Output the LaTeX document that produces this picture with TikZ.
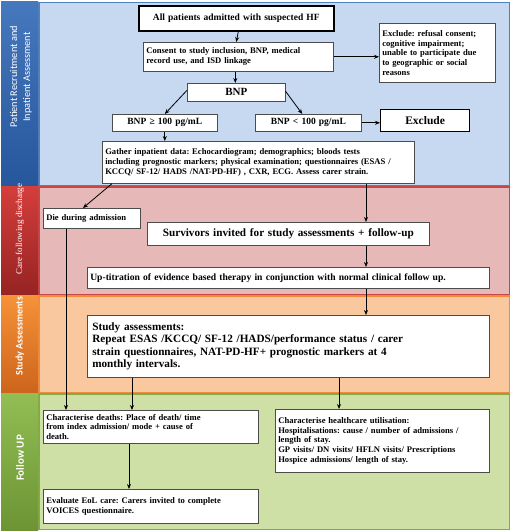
\documentclass[tikz,border=0pt]{standalone}
\usepackage{fontspec}
\setmainfont{Liberation Serif}
\newfontfamily\labelfont{Carlito}
\usetikzlibrary{arrows.meta}
\frenchspacing

\definecolor{blueband}{RGB}{198,217,240}
\definecolor{blueedge}{RGB}{79,129,189}
\definecolor{bluetop}{RGB}{70,120,190}
\definecolor{bluebot}{RGB}{38,86,155}
\definecolor{redband}{RGB}{230,185,184}
\definecolor{rededge}{RGB}{200,70,70}
\definecolor{redtop}{RGB}{212,62,60}
\definecolor{redbot}{RGB}{150,35,35}
\definecolor{orangeband}{RGB}{250,200,158}
\definecolor{orangeedge}{RGB}{238,140,60}
\definecolor{orangetop}{RGB}{246,146,56}
\definecolor{orangebot}{RGB}{205,100,28}
\definecolor{greenband}{RGB}{206,224,166}
\definecolor{greenedge}{RGB}{130,170,70}
\definecolor{greentop}{RGB}{146,190,84}
\definecolor{greenbot}{RGB}{108,148,52}

\tikzset{
  flowbox/.style={draw=black!70, fill=white, line width=0.6pt, anchor=north west,
    inner sep=3pt, font=\bfseries\fontsize{8.6}{9.7}\selectfont, align=left},
  keybox/.style={flowbox, draw=black, line width=1.6pt, align=center},
  bigbox/.style={flowbox, font=\bfseries\fontsize{11.2}{12.6}\selectfont},
  flowarrow/.style={-{Stealth[length=5pt,width=4pt]}, line width=0.8pt},
  bandlabel/.style={rotate=90, text=white, align=center,
    font=\labelfont\fontsize{10.3}{13}\selectfont},
}

\begin{document}
\begin{tikzpicture}[x=1pt,y=-1pt]
  \useasboundingbox (0,0) rectangle (512,532);
  % bands
  \foreach \ya/\yb/\c in {2/186/blue, 186/295/red, 295/393/orange, 393/530/green}{
    \fill[\c band] (38,\ya) rectangle (510,\yb);
    \draw[\c edge, line width=1.5pt] (38.75,\ya+0.75) rectangle (509.25,\yb-0.75);
    \shade[top color=\c top, bottom color=\c bot] (1,\ya) rectangle (38,\yb);
  }
  \node[bandlabel] (lblrecruit) at (21,77) {Patient Recruitment and\\Inpatient Assessment};
  \node[bandlabel, font=\rmfamily\fontsize{9}{11}\selectfont] (lblcare) at (20,229) {Care following discharge};
  \node[bandlabel, font=\labelfont\bfseries\fontsize{10}{11}\selectfont] (lblstudy) at (20,336) {Study Assessments};
  \node[bandlabel, font=\labelfont\bfseries\fontsize{11}{12}\selectfont] (lblfollow) at (20,458) {Follow UP};

  % recruitment
  \node[keybox, minimum width=195, minimum height=25, text width=189,
    font=\bfseries\fontsize{9.5}{11}\selectfont] (admit) at (138,5)
    {All patients admitted with suspected HF};
  \node[flowbox, minimum width=190, minimum height=29, text width=184] (consent) at (143,42)
    {Consent to study inclusion, BNP, medical\\record use, and ISD linkage};
  \node[flowbox, minimum width=116, minimum height=59, text width=110] (refuse) at (379,23)
    {Exclude: refusal consent;\\cognitive impairment;\\unable to participate due\\to geographic or social\\reasons};
  \node[flowbox, align=center, minimum width=98, minimum height=18, text width=92,
    font=\bfseries\fontsize{11}{12}\selectfont] (bnp) at (187,83) {BNP};
  \node[flowbox, align=center, minimum width=105, minimum height=17, text width=99,
    font=\bfseries\fontsize{9.5}{10}\selectfont] (bnphigh) at (112,114) {BNP ≥ 100 pg/mL};
  \node[flowbox, align=center, minimum width=106, minimum height=17, text width=100,
    font=\bfseries\fontsize{9.5}{10}\selectfont] (bnplow) at (255,114) {BNP < 100 pg/mL};
  \node[keybox, line width=1.2pt, minimum width=89, minimum height=22, text width=83,
    font=\bfseries\fontsize{11.5}{12}\selectfont] (exclude) at (380,109) {Exclude};
  \node[flowbox, minimum width=312, minimum height=42, text width=306] (gather) at (102,141)
    {Gather inpatient data: Echocardiogram; demographics; bloods tests\\including prognostic markers; physical examination; questionnaires (ESAS /\\KCCQ/ SF-12/ HADS /NAT-PD-HF) , CXR, ECG. Assess carer strain.};

  % care following discharge
  \node[flowbox, minimum width=97, minimum height=20, text width=91] (died) at (43,208)
    {Die during admission};
  \node[bigbox, align=center, minimum width=282, minimum height=23, text width=276] (survive) at (147,222)
    {Survivors invited for study assessments + follow-up};
  \node[flowbox, align=left, minimum width=402, minimum height=21, text width=396,
    font=\bfseries\fontsize{9.6}{10}\selectfont] (titrate) at (87,267)
    {Up-titration of evidence based therapy in conjunction with normal clinical follow up.};

  % study assessments
  \node[bigbox, minimum width=402, minimum height=62, text width=392] (assess) at (87,315)
    {Study assessments:\\Repeat ESAS /KCCQ/ SF-12 /HADS/performance status / carer\\strain questionnaires, NAT-PD-HF+ prognostic markers at 4\\monthly intervals.};

  % follow up
  \node[flowbox, minimum width=215, minimum height=33, text width=209] (deaths) at (43,410)
    {Characterise deaths: Place of death/ time\\from index admission/ mode + cause of\\death.};
  \node[flowbox, minimum width=215, minimum height=34, text width=209] (eol) at (43,489)
    {Evaluate EoL care: Carers invited to complete\\VOICES questionnaire.};
  \node[flowbox, minimum width=214, minimum height=63, text width=208] (usage) at (275,409)
    {Characterise healthcare utilisation:\\Hospitalisations: cause / number of admissions /\\length of stay.\\GP visits/ DN visits/ HFLN visits/ Prescriptions\\Hospice admissions/ length of stay.};

  % connectors
  \draw[flowarrow] (admit.south -| consent.north) -- (consent.north -| admit.south);
  \draw[flowarrow] ([xshift=-1pt]bnp.north |- consent.south) -- ([xshift=-1pt]bnp.north);
  \draw[flowarrow] (consent.east) -- (refuse.west |- consent.east);
  \draw[flowarrow] ([yshift=2pt]bnp.west) -- (bnphigh.north);
  \draw[flowarrow] ([yshift=1pt]bnp.east) -- ([xshift=-6pt]bnplow.north);
  \draw[flowarrow] (bnplow.east) -- (exclude.west |- bnplow.east);
  \draw[flowarrow] (bnphigh.south) -- (bnphigh.south |- gather.north);
  \draw[flowarrow] ([xshift=10pt]gather.south west) -- ([xshift=40pt]died.north west);
  \draw[flowarrow] ([xshift=264pt]gather.south west) coordinate (split) -- (split |- survive.north);
  \draw[flowarrow] (split |- survive.south) -- (split |- titrate.north);
  \draw[flowarrow] (split |- titrate.south) -- (split |- assess.north);
  \draw[flowarrow] ([xshift=23pt]died.south west) -- ([xshift=23pt]deaths.north west);
  \draw[flowarrow] ([xshift=45pt]assess.south west) -- ([xshift=89pt]deaths.north west);
  \draw[flowarrow] ([xshift=252pt]assess.south west) -- ([xshift=64pt]usage.north west);
  \draw[flowarrow] ([xshift=86pt]deaths.south west) -- ([xshift=86pt]eol.north west);
\end{tikzpicture}
\end{document}
